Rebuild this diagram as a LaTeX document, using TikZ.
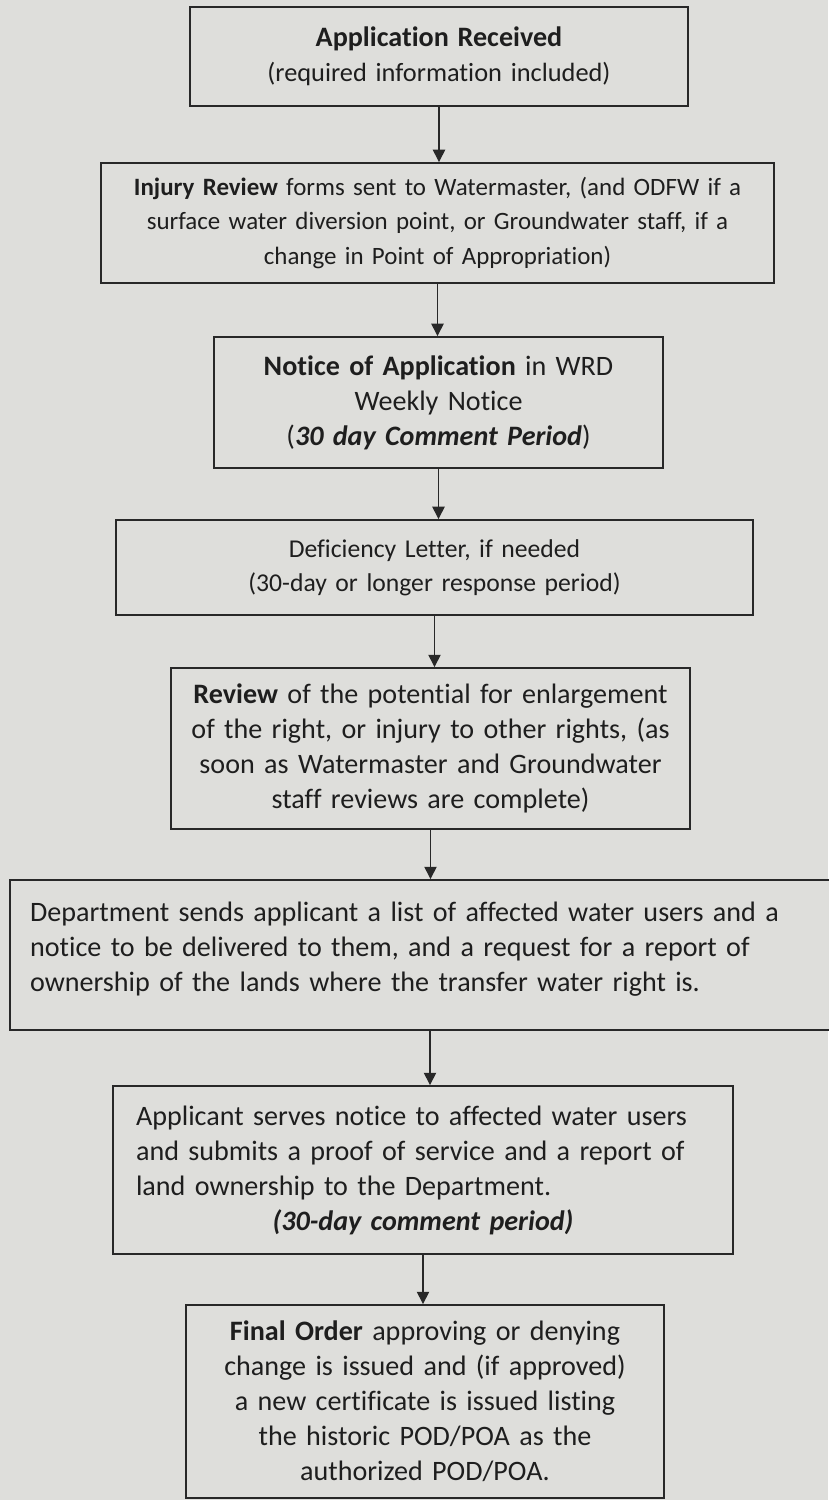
\documentclass[tikz,border=0pt]{standalone}
\usepackage{fontspec}
\setmainfont{Carlito}[Ligatures=NoCommon]
\usetikzlibrary{arrows.meta}
\definecolor{paper}{RGB}{222,222,219}
\definecolor{boxline}{RGB}{40,40,40}
\definecolor{ink}{RGB}{30,30,30}
\tikzset{
  stepbox/.style={draw=boxline,line width=1.1pt,fill=paper,inner sep=0pt,align=center,text=ink,
    font=\fontsize{16}{19.9}\selectfont},
  flowarrow/.style={draw=boxline,line width=0.8pt,-{Triangle[width=7pt,length=7pt]}}
}
\begin{document}
\begin{tikzpicture}[x=0.02cm,y=-0.02cm]
            \fill[paper] (0,0) rectangle (828,1500);
            \useasboundingbox (0,0) rectangle (828,1500);

            \node[stepbox,minimum width=9.96cm,minimum height=1.98cm,text width=9cm,
                  font=\fontsize{15}{19.9}\selectfont] (recv) at (439,56.5)
                {{\fontsize{16}{19.9}\selectfont\textbf{Application Received}}\\(required information included)};
            \node[stepbox,minimum width=13.46cm,minimum height=2.4cm,text width=13cm,
                  font=\fontsize{14.2}{19.9}\selectfont] (injury) at (437.5,223)
                {\textbf{Injury Review} forms sent to Watermaster, (and ODFW if a\\
                 surface water diversion point, or Groundwater staff, if a\\
                 change in Point of Appropriation)};
            \node[stepbox,minimum width=8.98cm,minimum height=2.62cm,text width=8.7cm] (notice) at (438.5,402.5)
                {\textbf{Notice of Application} in WRD\\Weekly Notice\\(\textbf{\textit{30 day Comment Period}})};
            \node[stepbox,minimum width=12.74cm,minimum height=1.9cm,text width=12cm,
                  font=\fontsize{14.6}{19.2}\selectfont] (defic) at (434.5,567.5)
                {Deficiency Letter, if needed\\(30-day or longer response period)};
            \node[stepbox,minimum width=10.38cm,minimum height=3.22cm,text width=10.2cm] (review) at (430.5,748.5)
                {\textbf{Review} of the potential for enlargement\\
                 of the right, or injury to other rights, (as\\
                 soon as Watermaster and Groundwater\\
                 staff reviews are complete)};
            \node[stepbox,minimum width=16.8cm,minimum height=3cm,text width=16cm,align=left] (sends) at (430,955)
                {Department sends applicant a list of affected water users and a\\
                 notice to be delivered to them, and a request for a report of\\
                 ownership of the lands where the transfer water right is.\par\vspace{0.24cm}};
            \node[stepbox,minimum width=12.4cm,minimum height=3.36cm,text width=11.48cm,align=left] (serves) at (423,1170)
                {Applicant serves notice to affected water users\\
                 and submits a proof of service and a report of\\
                 land ownership to the Department.\\
                 \makebox[\linewidth][c]{\textbf{\textit{(30-day comment period)}}}};
            \node[stepbox,minimum width=9.56cm,minimum height=3.86cm,text width=9.2cm] (final) at (425,1401.5)
                {\textbf{Final Order} approving or denying\\
                 change is issued and (if approved)\\
                 a new certificate is issued listing\\
                 the historic POD/POA as the\\
                 authorized POD/POA.};

            \foreach \a/\b in {recv/injury,injury/notice,notice/defic,defic/review,review/sends,sends/serves,serves/final}
                \draw[flowarrow] (\a.south) -- (\a.south |- \b.north);
        \end{tikzpicture}
\end{document}
